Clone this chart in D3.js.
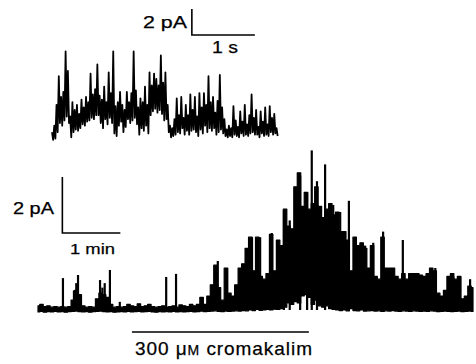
<!DOCTYPE html>
<html>
<head>
<meta charset="utf-8">
<script src="https://cdn.jsdelivr.net/npm/d3@7"></script>
<style>
  html, body { margin: 0; padding: 0; background: #fff; }
  svg { display: block; }
  text { font-family: "Liberation Sans", Arial, Helvetica, sans-serif; fill: #000; stroke: #000; stroke-width: 0.25; }
</style>
</head>
<body>
<div id="chart"></div>
<script>
// Inset: single-channel trace on a fast time base (s, pA), sampled every 0.036 s.
// Each sample keeps the max and min of the current within that bin.
const fastDt = 0.036;
const fastHi = [0.3, 0.8, 2.4, 4.6, 3.0, 3.4, 6.5, 5.0, 1.5, 2.6,
  2.0, 2.4, 1.7, 2.8, 2.2, 3.0, 2.6, 4.8, 3.2, 3.6,
  5.5, 3.1, 2.8, 3.8, 2.6, 4.9, 3.3, 6.5, 2.3, 2.6,
  3.4, 2.4, 2.0, 3.4, 2.6, 3.3, 6.5, 3.5, 2.2, 2.9,
  2.6, 3.8, 2.4, 4.9, 3.9, 4.8, 4.4, 3.9, 6.2, 4.1,
  4.9, 2.4, 0.8, 0.6, 1.3, 2.9, 1.6, 3.0, 1.4, 2.4,
  1.6, 3.2, 2.0, 3.0, 1.5, 3.3, 2.2, 3.3, 2.4, 4.6,
  2.6, 3.0, 1.8, 2.7, 4.7, 2.2, 1.3, 0.5, 0.8, 0.6,
  2.3, 1.2, 0.7, 1.9, 1.1, 2.4, 0.9, 1.6, 3.2, 1.4,
  2.0, 0.7, 1.9, 1.1, 2.2, 0.9, 2.3, 1.4, 1.7, 0.6];
const fastLo = [-0.3, -0.2, 0.3, 1.0, 0.8, 1.2, 1.5, 1.0, -0.1, 0.3,
  0.5, 0.4, 0.6, 0.9, 0.8, 1.1, 1.2, 1.4, 1.3, 1.6,
  1.6, 1.0, 0.6, 1.3, 0.9, 1.4, 1.0, 0.2, 0.0, 0.8,
  1.1, 0.3, 0.7, 1.3, 1.0, 1.2, 1.4, 0.9, 0.1, 0.6,
  0.4, 0.8, 0.2, 1.6, 1.9, 2.1, 1.8, 2.0, 1.7, 1.2,
  1.3, 0.3, -0.1, 0.0, 0.1, 0.3, 0.2, 0.6, 0.1, 0.4,
  0.1, 0.4, 0.5, 0.3, 0.0, 0.5, 0.2, 0.8, 0.3, 0.6,
  0.4, 0.6, 0.1, 0.3, 0.5, 0.2, 0.0, -0.1, 0.0, -0.1,
  0.1, 0.0, -0.1, 0.2, 0.0, 0.1, 0.0, 0.2, 0.3, 0.1,
  0.1, -0.1, 0.2, 0.0, 0.1, 0.0, 0.3, 0.1, 0.2, 0.0];

// Main trace: slow time base (min, pA), sampled every 0.06 min.
const slowDt = 0.06;
const slowHi = [0.15, 0.2, 0.12, 0.15, 0.1, 0.12, 0.1, 0.12, 0.1, 0.12,
  0.35, 0.7, 0.55, 0.15, 0.1, 0.12, 0.1, 0.4, 0.6, 0.55,
  0.45, 0.2, 0.1, 0.12, 0.1, 0.12, 0.2, 0.15, 0.12, 0.22,
  0.12, 0.15, 0.2, 0.12, 0.1, 0.12, 0.15, 0.1, 0.12, 0.15,
  0.1, 0.18, 0.15, 0.12, 0.2, 0.15, 0.2, 0.45, 0.2, 0.5,
  0.9, 1.6, 0.8, 0.35, 1.5, 0.6, 0.5, 0.9, 1.5, 1.65,
  2.2, 2.6, 1.4, 2.6, 1.2, 1.1, 1.3, 2.7, 1.4, 2.5,
  2.3, 3.6, 3.0, 2.9, 4.4, 4.9, 3.7, 4.2, 3.6, 3.8,
  4.4, 3.7, 3.3, 3.6, 3.8, 3.4, 3.5, 2.8, 2.8, 2.5,
  1.4, 2.6, 2.3, 2.4, 2.2, 1.5, 2.3, 1.2, 1.1, 2.6,
  1.5, 1.5, 1.5, 1.2, 1.1, 1.3, 1.1, 1.3, 1.3, 1.3,
  1.25, 1.2, 1.3, 1.5, 1.4, 0.6, 0.5, 0.7, 1.2, 1.3,
  1.1, 1.2, 0.4, 0.5, 0.85, 0.8];
const slowLo = [-0.07, -0.05, -0.08, -0.06, -0.07, -0.05, -0.07, -0.06, -0.08, -0.06,
  -0.05, -0.04, -0.06, -0.07, -0.06, -0.08, -0.06, -0.05, -0.04, -0.06,
  -0.07, -0.06, -0.08, -0.07, -0.06, -0.07, -0.05, -0.07, -0.06, -0.05,
  -0.07, -0.06, -0.05, -0.07, -0.08, -0.06, -0.07, -0.06, -0.07, -0.05,
  -0.07, -0.06, -0.07, -0.06, -0.05, -0.07, -0.06, -0.04, -0.06, -0.05,
  -0.04, -0.03, -0.05, -0.06, -0.04, -0.05, -0.04, -0.03, -0.04, -0.02,
  -0.03, 0.0, -0.02, 0.02, -0.01, 0.0, 0.02, 0.0, 0.03, 0.02,
  0.05, 0.1, 0.25, 0.2, 0.3, 0.25, 0.5, 0.55, 0.45, 0.2,
  0.35, 0.15, 0.1, 0.15, 0.05, 0.02, 0.0, -0.02, 0.0, -0.03,
  0.05, -0.02, -0.03, 0.0, -0.04, -0.03, -0.02, -0.04, -0.03, -0.05,
  -0.03, -0.04, -0.02, -0.04, -0.05, -0.03, -0.04, -0.05, -0.03, -0.04,
  -0.05, -0.04, -0.05, -0.03, -0.04, -0.06, -0.05, -0.04, -0.05, -0.06,
  -0.05, -0.04, -0.06, -0.05, -0.04, -0.05];

// Brief openings that rise above the envelope (min, pA)
const spikeT = [0.43, 0.62, 0.66, 0.69, 1.07, 1.11, 1.15, 1.24, 1.41, 2.21,
  2.38, 2.84, 3.10, 3.26, 3.69, 3.83, 4.03, 4.24, 4.34, 4.52,
  4.64, 4.72, 4.81, 4.95, 5.09, 5.21, 5.36, 5.47, 5.64, 5.78,
  5.95, 6.29, 6.85, 7.16, 7.28, 7.45];
const spikeA = [1.14, 0.7, 0.96, 1.25, 1.07, 0.8, 0.96, 1.43, 0.29, 1.18,
  1.29, 0.46, 1.75, 1.5, 2.6, 2.6, 2.75, 3.57, 3.2, 4.8,
  4.2, 5.7, 4.6, 5.2, 3.75, 3.5, 3.9, 2.6, 2.3, 2.4,
  2.8, 2.5, 1.5, 1.2, 1.2, 1.1];

// Drug application (min) and scale bars
const drugOn = [1.62, 4.67];
const drugLabel = ['300 ', 'μ', 'M', ' cromakalim'];
const fastBar = { t: 2.22, dt: 1, i: 7.77, di: 2 };   // 1 s, 2 pA
const slowBar = { t: 0.42, dt: 1, i: 2.75, di: 2 };   // 1 min, 2 pA

const width = 476, height = 364;

const svg = d3.select('#chart')
  .append('svg')
  .attr('width', width)
  .attr('height', height);

svg.append('rect').attr('width', width).attr('height', height).attr('fill', '#fff');

// scales: 63 px per s, 13 px per pA (inset); 58 px per min, 28 px per pA (main)
const xFast = d3.scaleLinear().domain([0, 1]).range([52, 115]);
const yFast = d3.scaleLinear().domain([0, 1]).range([136, 123]);
const xSlow = d3.scaleLinear().domain([0, 1]).range([38, 96]);
const ySlow = d3.scaleLinear().domain([0, 1]).range([310, 282]);

// ---- inset trace: zigzag max -> min inside each bin, like a pen recorder
const fastLine = d3.line()
  .x(k => xFast(Math.floor(k / 2) * fastDt + (k % 2) * fastDt / 2))
  .y(k => yFast(k % 2 ? fastLo[Math.floor(k / 2)] : fastHi[Math.floor(k / 2)]));

svg.append('path')
  .datum(d3.range(fastHi.length * 2))
  .attr('d', fastLine)
  .attr('fill', 'none')
  .attr('stroke', '#000')
  .attr('stroke-width', 1.8)
  .attr('stroke-linejoin', 'round');

// ---- main trace (blocky bursts -> step curve)
const slowArea = d3.area()
  .x((d, i) => xSlow(i * slowDt))
  .y0((d, i) => ySlow(slowLo[i]))
  .y1(d => ySlow(d))
  .curve(d3.curveStep);

svg.append('path')
  .datum(slowHi)
  .attr('d', slowArea)
  .attr('fill', '#000')
  .attr('stroke', '#000')
  .attr('stroke-width', 1.2)
  .attr('stroke-linejoin', 'round');

svg.append('g')
  .selectAll('line')
  .data(spikeT)
  .enter()
  .append('line')
  .attr('x1', d => xSlow(d))
  .attr('x2', d => xSlow(d))
  .attr('y1', ySlow(0))
  .attr('y2', (d, i) => ySlow(spikeA[i]))
  .attr('stroke', '#000')
  .attr('stroke-width', 2.2);

// ---- scale bars
function scaleBar(x, y, b) {
  const p = d3.path();
  p.moveTo(x(b.t), y(b.i + b.di));
  p.lineTo(x(b.t), y(b.i));
  p.lineTo(x(b.t + b.dt), y(b.i));
  svg.append('path')
    .attr('d', p.toString())
    .attr('fill', 'none')
    .attr('stroke', '#000')
    .attr('stroke-width', 1.6);
}
scaleBar(xFast, yFast, fastBar);
scaleBar(xSlow, ySlow, slowBar);

function label(x, y, s, len, size) {
  svg.append('text')
    .attr('x', x).attr('y', y)
    .attr('font-size', size)
    .attr('textLength', len)
    .attr('lengthAdjust', 'spacingAndGlyphs')
    .text(s);
}
label(143, 28, '2 pA', 44, 16);
label(212, 53, '1 s', 26, 16);
label(13, 214, '2 pA', 41, 16);
label(70, 254, '1 min', 45, 15.5);

// ---- drug bar
const drugY = 332;
svg.append('line')
  .attr('x1', xSlow(drugOn[0])).attr('x2', xSlow(drugOn[1]))
  .attr('y1', drugY).attr('y2', drugY)
  .attr('stroke', '#000')
  .attr('stroke-width', 1.6);

const drugText = svg.append('text')
  .attr('x', xSlow(drugOn[0]) + 3)
  .attr('y', 355)
  .attr('font-size', 19)
  .attr('textLength', 177)
  .attr('lengthAdjust', 'spacing');
drugText.selectAll('tspan')
  .data(drugLabel)
  .enter()
  .append('tspan')
  .attr('font-size', (d, i) => i === 2 ? 14 : 19)
  .text(d => d);
</script>
</body>
</html>
